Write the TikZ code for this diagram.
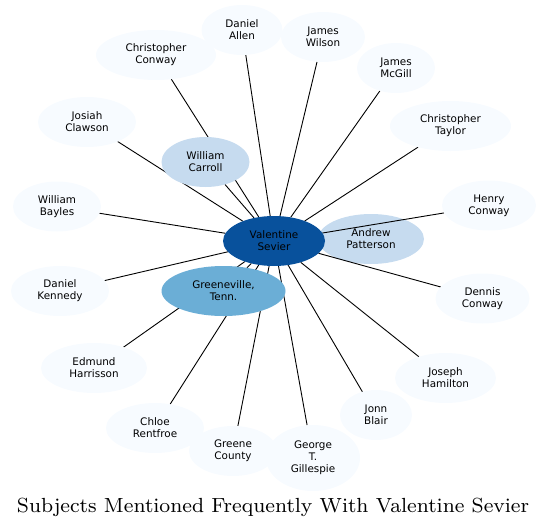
\documentclass[tikz,border=0pt]{standalone}
\usepackage{fontspec}
\newfontfamily\lblfont{DejaVu Sans}
\usetikzlibrary{shapes.geometric}
\definecolor{outerc}{HTML}{F7FBFF}
\definecolor{midc}{HTML}{C6DBEF}
\definecolor{greenc}{HTML}{6BAED6}
\definecolor{centerc}{HTML}{08519C}
\pgfdeclarelayer{bg}
\pgfdeclarelayer{edges}
\pgfsetlayers{bg,edges,main}
\tikzset{
  nd/.style={ellipse, inner sep=0pt, outer sep=0pt, align=center,
    font=\lblfont\fontsize{10.4}{12}\selectfont, fill=outerc,
    minimum width=#1, minimum height=50},
  hub/.style={nd=#1, fill=centerc},
  mid/.style={nd=#1, fill=midc},
  grn/.style={nd=#1, fill=greenc},
  edge/.style={draw=black, line width=0.9pt},
}
\begin{document}
\begin{tikzpicture}[x=1pt,y=-1pt]
\useasboundingbox (0,0) rectangle (547,528);
\begin{pgfonlayer}{bg}
\node[mid=106] (ap) at (371,239) {Andrew\\Patterson};
\end{pgfonlayer}
\node[hub=102] (vs) at (274,241) {Valentine\\Sevier};
\node[mid=88] (wc) at (205.5,162) {William\\Carroll};
\node[grn=124] (gt) at (223.5,291) {Greeneville,\\Tenn.};
\node[nd=120] (cc) at (156,55) {Christopher\\Conway};
\node[nd=81] (da) at (242,30) {Daniel\\Allen};
\node[nd=84] (jw) at (323,37) {James\\Wilson};
\node[nd=78] (jm) at (396,68) {James\\McGill};
\node[nd=121] (ct) at (450.5,126) {Christopher\\Taylor};
\node[nd=98] (jc) at (87,122) {Josiah\\Clawson};
\node[nd=88] (wb) at (57,206.5) {William\\Bayles};
\node[nd=94] (hc) at (489,205.5) {Henry\\Conway};
\node[nd=98] (dk) at (60,291) {Daniel\\Kennedy};
\node[nd=94] (dc) at (482.5,298.5) {Dennis\\Conway};
\node[nd=106] (eh) at (94,368) {Edmund\\Harrisson};
\node[nd=101] (jh) at (445.5,378) {Joseph\\Hamilton};
\node[nd=72] (jb) at (376,415) {Jonn\\Blair};
\node[nd=98] (cr) at (155,428) {Chloe\\Rentfroe};
\node[nd=88] (gc) at (233,451) {Greene\\County};
\node[nd=94, minimum height=66] (gg) at (313,458) {George\\T.\\Gillespie};
\node[inner sep=0pt] (title) at (273,507) {\resizebox{512pt}{!}{\fontsize{8}{9}\selectfont Subjects Mentioned Frequently With Valentine Sevier}};
\begin{pgfonlayer}{edges}
\foreach \n in {ap,wc,gt,cc,da,jw,jm,ct,jc,wb,hc,dk,dc,eh,jh,jb,cr,gc,gg}
  \draw[edge] (\n) -- (vs);
\end{pgfonlayer}
\end{tikzpicture}
\end{document}
